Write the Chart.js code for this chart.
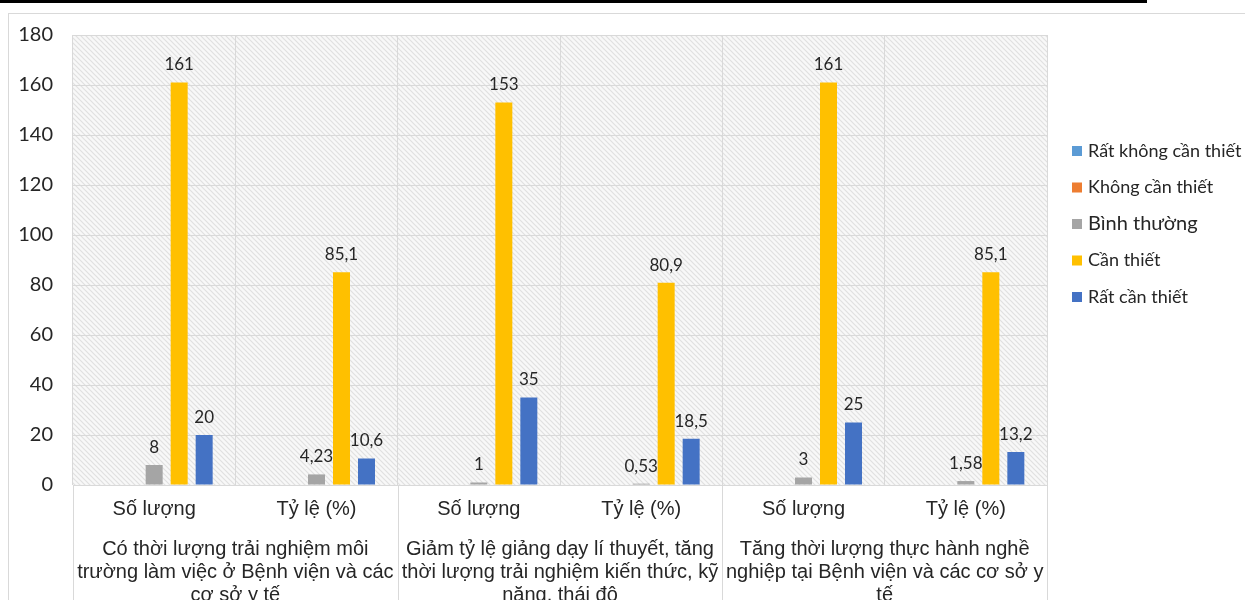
<!DOCTYPE html>
<html lang="vi">
<head>
<meta charset="utf-8">
<title>Biểu đồ mức độ cần thiết</title>
<script src="https://cdn.jsdelivr.net/npm/chart.js@4.4.1/dist/chart.umd.min.js"></script>
<style>
  html, body { margin: 0; padding: 0; background: #ffffff; overflow: hidden; }
  #page { position: relative; width: 1245px; height: 600px; }
  #topRule { position: absolute; left: 0; top: 0; width: 1147px; height: 3px; background: #000; }
  #frameTop { position: absolute; left: 8px; top: 13px; right: 0; height: 1px; background: #d9d9d9; }
  #frameLeft { position: absolute; left: 8px; top: 13px; bottom: 0; width: 1px; background: #d9d9d9; }
  #wrap { position: absolute; left: 0; top: 0; width: 1245px; height: 600px; }
</style>
</head>
<body>
<div id="page">
  <div id="topRule"></div>
  <div id="frameTop"></div>
  <div id="frameLeft"></div>
  <div id="wrap"><canvas id="chart"></canvas></div>
</div>
<script>
// Sub-categories along the first row of the x axis
const categories = ["Số lượng", "Tỷ lệ (%)", "Số lượng", "Tỷ lệ (%)", "Số lượng", "Tỷ lệ (%)"];
// Group captions on the second row (one entry per pair of columns, split into lines)
const groupLabels = [
  ["Có thời lượng trải nghiệm môi", "trường làm việc ở Bệnh viện và các", "cơ sở y tế"],
  ["Giảm tỷ lệ giảng dạy lí thuyết, tăng", "thời lượng trải nghiệm kiến thức, kỹ", "năng, thái độ"],
  ["Tăng thời lượng thực hành nghề", "nghiệp tại Bệnh viện và các cơ sở y", "tế"]
];
const seriesNames = ["Rất không cần thiết", "Không cần thiết", "Bình thường", "Cần thiết", "Rất cần thiết"];
const ratKhongCanThiet = [0, 0, 0, 0, 0, 0];
const khongCanThiet = [0, 0, 0, 0, 0, 0];
const binhThuong = [8, 4.23, 1, 0.53, 3, 1.58];
const canThiet = [161, 85.1, 153, 80.9, 161, 85.1];
const ratCanThiet = [20, 10.6, 35, 18.5, 25, 13.2];
const yMin = 0, yMax = 180, yStep = 20;

const seriesValues = [ratKhongCanThiet, khongCanThiet, binhThuong, canThiet, ratCanThiet];
const seriesColors = ["#5B9BD5", "#ED7D31", "#A5A5A5", "#FFC000", "#4472C4"];

const LABEL_FONT = "Lato, 'Open Sans', sans-serif";
const AXIS_FONT = "'Liberation Sans', Arial, sans-serif";

// Light diagonal hatching for the plot background
function makeHatch() {
  const c = document.createElement("canvas");
  c.width = 5; c.height = 5;
  const g = c.getContext("2d");
  g.fillStyle = "#f8f8f8";
  g.fillRect(0, 0, 5, 5);
  g.strokeStyle = "#e0e0e0";
  g.lineWidth = 1.2;
  g.beginPath();
  g.moveTo(-1, -1); g.lineTo(6, 6);
  g.moveTo(-1, 4); g.lineTo(1, 6);
  g.moveTo(4, -1); g.lineTo(6, 1);
  g.stroke();
  return c;
}

const hatchBackground = {
  id: "hatchBackground",
  beforeDraw(chart) {
    const { ctx, chartArea: a } = chart;
    ctx.save();
    ctx.fillStyle = ctx.createPattern(makeHatch(), "repeat");
    ctx.fillRect(a.left, a.top, a.right - a.left, a.bottom - a.top);
    ctx.restore();
  }
};

// Group separators running down through the category label rows
const groupDividers = {
  id: "groupDividers",
  afterDraw(chart) {
    const { ctx, chartArea: a } = chart;
    const x = chart.scales.x;
    const xs = [a.left, x.getPixelForValue(1.5), x.getPixelForValue(3.5), a.right];
    ctx.save();
    ctx.strokeStyle = "#d9d9d9";
    ctx.lineWidth = 1;
    xs.forEach(px => {
      const p = Math.round(px) + 0.5;
      ctx.beginPath();
      ctx.moveTo(p, a.bottom);
      ctx.lineTo(p, chart.height);
      ctx.stroke();
    });
    ctx.restore();
  }
};

// Value labels above each non-zero bar, written with a decimal comma
const valueLabels = {
  id: "valueLabels",
  afterDatasetsDraw(chart) {
    const { ctx } = chart;
    ctx.save();
    ctx.font = "17px " + LABEL_FONT;
    ctx.fillStyle = "#262626";
    ctx.textAlign = "center";
    ctx.textBaseline = "bottom";
    chart.data.datasets.forEach((ds, di) => {
      const meta = chart.getDatasetMeta(di);
      meta.data.forEach((bar, i) => {
        const v = ds.data[i];
        if (!v) return;
        ctx.fillText(String(v).replace(".", ","), bar.x, bar.y - 9);
      });
    });
    ctx.restore();
  }
};

// Vertical legend on the right side
const sideLegend = {
  id: "sideLegend",
  afterDraw(chart) {
    const { ctx } = chart;
    const x0 = 1072, y0 = 151, step = 36.5;
    ctx.save();
    chart.data.datasets.forEach((ds, i) => {
      const cy = y0 + i * step;
      ctx.fillStyle = ds.backgroundColor;
      ctx.fillRect(x0, cy - 5, 10, 10);
      ctx.fillStyle = "#262626";
      ctx.textAlign = "left";
      ctx.textBaseline = "middle";
      ctx.font = (i === 2 ? "20px " : "18px ") + LABEL_FONT;
      ctx.fillText(ds.label, x0 + 16, cy);
    });
    ctx.restore();
  }
};

new Chart(document.getElementById("chart"), {
  type: "bar",
  data: {
    labels: categories,
    datasets: seriesNames.map((name, i) => ({
      label: name,
      data: seriesValues[i],
      backgroundColor: seriesColors[i],
      borderWidth: 0,
      barPercentage: 0.68,
      categoryPercentage: 0.77
    }))
  },
  options: {
    responsive: true,
    maintainAspectRatio: false,
    animation: false,
    layout: { padding: { top: 35, right: 198, left: 0, bottom: 0 } },
    plugins: {
      legend: { display: false },
      tooltip: { enabled: false }
    },
    scales: {
      y: {
        min: yMin,
        max: yMax,
        ticks: {
          stepSize: yStep,
          color: "#262626",
          font: { family: LABEL_FONT, size: 20 },
          padding: 20
        },
        grid: { color: "#d9d9d9", drawTicks: false },
        border: { display: false },
        afterFit(s) { s.width = 73; }
      },
      x: {
        position: "bottom",
        ticks: {
          color: "#262626",
          font: { family: AXIS_FONT, size: 20 },
          padding: 12,
          maxRotation: 0,
          autoSkip: false
        },
        grid: { color: "#d9d9d9", offset: true, drawTicks: false },
        border: { display: false },
        afterFit(s) { s.height = 45; }
      },
      x2: {
        type: "category",
        position: "bottom",
        labels: groupLabels,
        offset: true,
        ticks: {
          color: "#262626",
          font: { family: AXIS_FONT, size: 20, lineHeight: 1.15 },
          padding: 7.5,
          maxRotation: 0,
          autoSkip: false
        },
        grid: { display: false, drawTicks: false },
        border: { display: false },
        afterFit(s) { s.height = 70; }
      }
    }
  },
  plugins: [hatchBackground, groupDividers, valueLabels, sideLegend]
});
</script>
</body>
</html>
